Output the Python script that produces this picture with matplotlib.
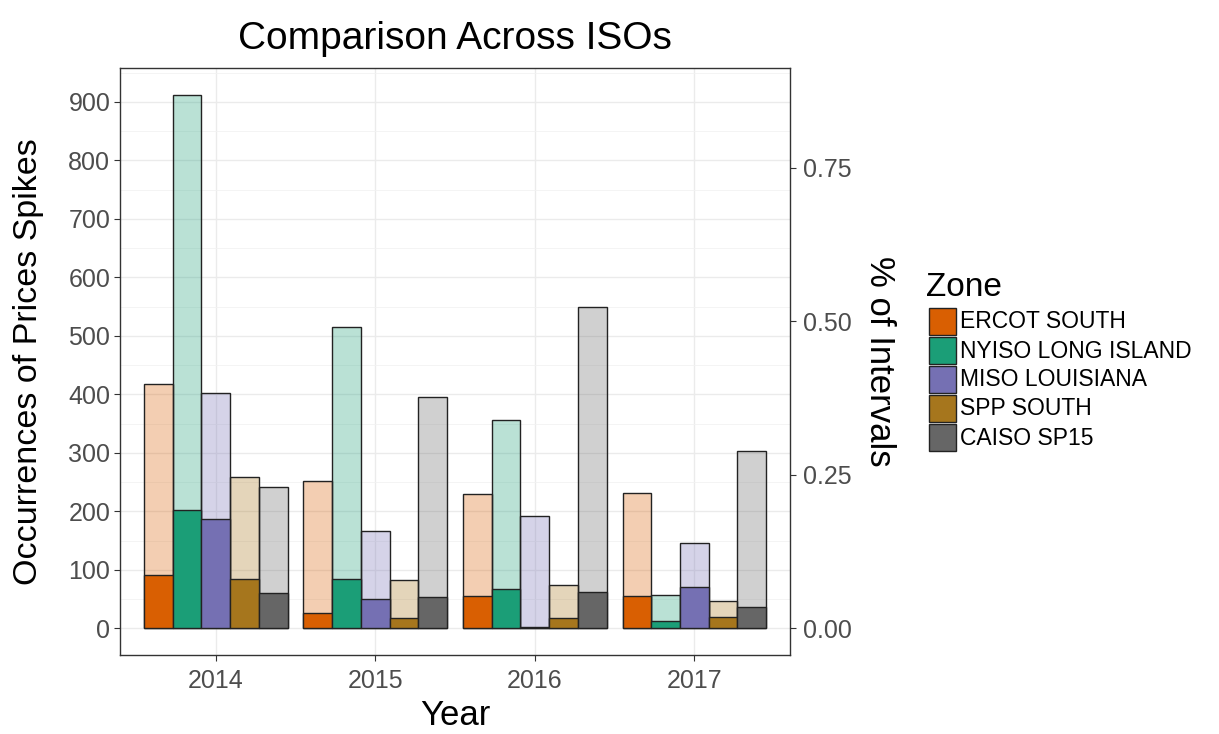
import matplotlib
matplotlib.use("Agg")
import matplotlib.pyplot as plt
import numpy as np
from matplotlib.patches import Rectangle

plt.rcParams["font.family"] = ["Liberation Sans", "DejaVu Sans"]

# ── Data ─────────────────────────────────────────────────────────────────────
years = ["2014", "2015", "2016", "2017"]
zones = ["ERCOT SOUTH", "NYISO LONG ISLAND", "MISO LOUISIANA", "SPP SOUTH", "CAISO SP15"]

# occurrences of price spikes (left axis), one list per zone, by year
ercot_spikes = [91, 27, 55, 55]
nyiso_spikes = [202, 85, 68, 12]
miso_spikes  = [187, 50, 3, 70]
spp_spikes   = [85, 17, 17, 20]
caiso_spikes = [60, 53, 62, 37]

# share of intervals (right axis)
ercot_pct = [0.398, 0.240, 0.219, 0.221]
nyiso_pct = [0.869, 0.490, 0.340, 0.054]
miso_pct  = [0.383, 0.158, 0.183, 0.139]
spp_pct   = [0.246, 0.079, 0.071, 0.044]
caiso_pct = [0.230, 0.376, 0.523, 0.288]

spikes = [ercot_spikes, nyiso_spikes, miso_spikes, spp_spikes, caiso_spikes]
pcts   = [ercot_pct, nyiso_pct, miso_pct, spp_pct, caiso_pct]

SEC_SCALE = 1050   # right axis = left axis / SEC_SCALE
COLOURS = ["#D95F02", "#1B9E77", "#7570B3", "#A6761D", "#666666"]
EDGE = "#222222"

W, H = 1219, 734

# ── Plot ─────────────────────────────────────────────────────────────────────
fig = plt.figure(figsize=(W / 100, H / 100), dpi=100)
ax = fig.add_axes([120 / W, 1 - 655 / H, 670 / W, 587 / H])

x = np.arange(1, len(years) + 1)
n = len(zones)
width = 0.9 / n

for i, (col, s, p) in enumerate(zip(COLOURS, spikes, pcts)):
    xpos = x - 0.45 + width * (i + 0.5)
    ax.bar(xpos, np.array(p) * SEC_SCALE, width=width, color=col, alpha=0.3,
           edgecolor="none", zorder=2)
    ax.bar(xpos, np.array(p) * SEC_SCALE, width=width, color="none",
           edgecolor=EDGE, linewidth=1.0, zorder=3)
    ax.bar(xpos, s, width=width, color=col, edgecolor=EDGE,
           linewidth=1.0, zorder=4)

ymax = max(max(p) for p in pcts) * SEC_SCALE
pad = ymax * 0.05
ax.set_ylim(-pad, ymax + pad)
ax.set_xlim(0.4, len(years) + 0.6)

ax.set_xticks(x)
ax.set_xticklabels(years)
ax.set_yticks(np.arange(0, 901, 100))
ax.set_yticks(np.arange(50, 951, 100), minor=True)
ax.grid(True, which="major", color="#EBEBEB", linewidth=1.0, zorder=0)
ax.yaxis.grid(True, which="minor", color="#F2F2F2", linewidth=0.6, zorder=0)
ax.set_axisbelow(True)

for sp in ax.spines.values():
    sp.set_color("#333333")
    sp.set_linewidth(1.0)

ax.tick_params(axis="both", which="major", length=4, color="#333333",
               labelsize=18, labelcolor="#4D4D4D")
ax.tick_params(axis="y", pad=3)
ax.tick_params(axis="x", pad=6)
ax.tick_params(axis="y", which="minor", length=0)

ax.set_xlabel("Year", fontsize=25)
ax.xaxis.set_label_coords(0.5, -0.075)
ax.set_ylabel("Occurrences of Prices Spikes", fontsize=24.5, va="center")
ax.yaxis.set_label_coords(-0.136, 0.5)
ax.set_title("Comparison Across ISOs", fontsize=28, pad=14)

# secondary axis
ax2 = ax.twinx()
lo, hi = ax.get_ylim()
ax2.set_ylim(lo / SEC_SCALE, hi / SEC_SCALE)
ax2.set_yticks([0, 0.25, 0.5, 0.75])
ax2.set_yticklabels(["0.00", "0.25", "0.50", "0.75"])
ax2.tick_params(axis="y", length=4, color="#333333", labelsize=18,
                labelcolor="#4D4D4D", pad=5)
for sp in ax2.spines.values():
    sp.set_visible(False)
ax2.set_ylabel("% of Intervals", fontsize=25, rotation=270, va="center")
ax2.yaxis.set_label_coords(1.134, 0.5)

# legend (drawn by hand to match key size and spacing)
fig.text(926 / W, 1 - 288 / H, "Zone", fontsize=24, va="center", ha="left")
for i, (col, name) in enumerate(zip(COLOURS, zones)):
    top = 308 + 29 * i
    fig.add_artist(Rectangle((929 / W, 1 - (top + 27) / H), 27 / W, 27 / H,
                             transform=fig.transFigure, facecolor=col,
                             edgecolor=EDGE, linewidth=1.0))
    fig.text(960 / W, 1 - (top + 14) / H, name, fontsize=16.5,
             va="center", ha="left")

fig.savefig("out.png", dpi=100)
